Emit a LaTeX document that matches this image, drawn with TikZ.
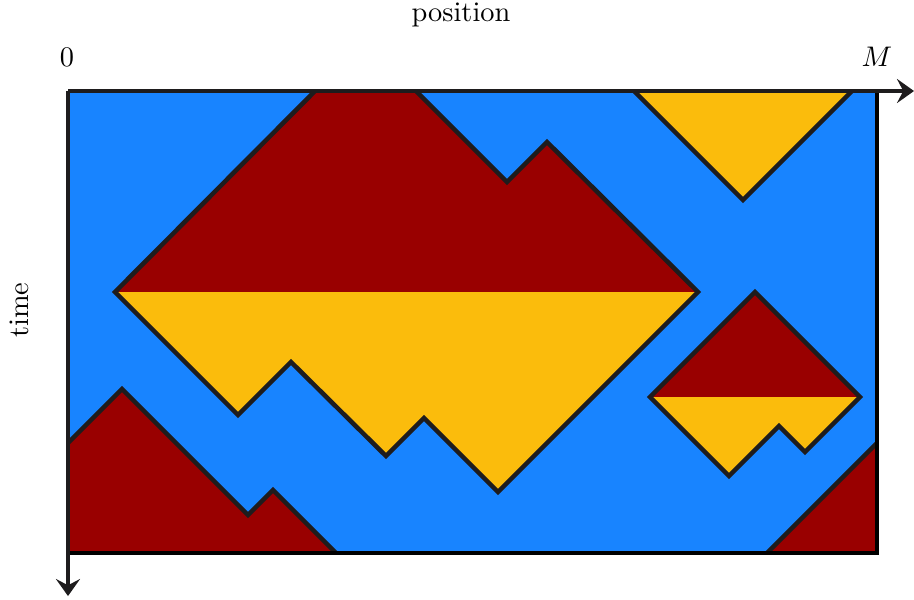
\documentclass[tikz,border=0pt]{standalone}
\usetikzlibrary{arrows.meta}
\definecolor{cblue}{RGB}{24,132,255}
\definecolor{cred}{RGB}{153,0,0}
\definecolor{cyel}{RGB}{251,188,12}
\definecolor{cline}{RGB}{30,28,29}
\tikzset{
  edge/.style={draw=cline,line width=1.6pt,line join=miter,miter limit=20},
  frameline/.style={draw=black,line width=1.7pt},
  axisarrow/.style={cline,line width=1.7pt,-{Stealth[length=6pt,width=8.5pt,inset=2.2pt]}},
  lbl/.style={inner sep=0pt}
}
\begin{document}
\begin{tikzpicture}[x=0.3528pt,y=-0.3528pt]
\useasboundingbox (0,0) rectangle (914,599);
% background
\fill[cblue] (68,91) rectangle (877,553);
% fills
\fill[cred] (115,292) -- (315,91) -- (416,91) -- (507,182) -- (547,142) -- (698,292) -- cycle;
\fill[cyel] (115,292) -- (698,292) -- (498,492) -- (424,418) -- (386,456) -- (291,362) -- (238,415) -- cycle;
\fill[cyel] (634,91) -- (852,91) -- (743,200) -- cycle;
\fill[cred] (650,397) -- (755,292) -- (860,397) -- cycle;
\fill[cyel] (650,397) -- (860,397) -- (805,452) -- (779,426) -- (729,476) -- cycle;
\fill[cred] (68,443) -- (122,389) -- (248,515) -- (273,490) -- (336,553) -- (68,553) -- cycle;
\fill[cred] (767,553) -- (877,443) -- (877,553) -- cycle;
% outlines
\draw[edge] (315,91) -- (115,292) -- (238,415) -- (291,362) -- (386,456) -- (424,418) -- (498,492) -- (698,292) -- (547,142) -- (507,182) -- (416,91);
\draw[edge] (634,91) -- (743,200) -- (852,91);
\draw[edge] (650,397) -- (755,292) -- (860,397) -- (805,452) -- (779,426) -- (729,476) -- cycle;
\draw[edge] (68,443) -- (122,389) -- (248,515) -- (273,490) -- (336,553);
\draw[edge] (767,553) -- (877,443);
% frame
\coordinate (o) at (68,91);
\coordinate (tr) at (877,91);
\coordinate (br) at (877,553);
\coordinate (bl) at (68,553);
\coordinate (xend) at (914,91);
\coordinate (yend) at (68,596);
\draw[frameline] (tr) -- (br) -- (bl);
\draw[frameline] (o) -- (tr);
\draw[axisarrow] (o) -- (xend);
\draw[axisarrow] (o) -- (yend);
% labels
\node[lbl] (zero) at (67,57) {$0$};
\node[lbl] (m) at (877,57) {$M$};
\node[lbl] (pos) at (461,15) {position};
\node[lbl,rotate=90] (time) at (19,310) {time};
\end{tikzpicture}
\end{document}
